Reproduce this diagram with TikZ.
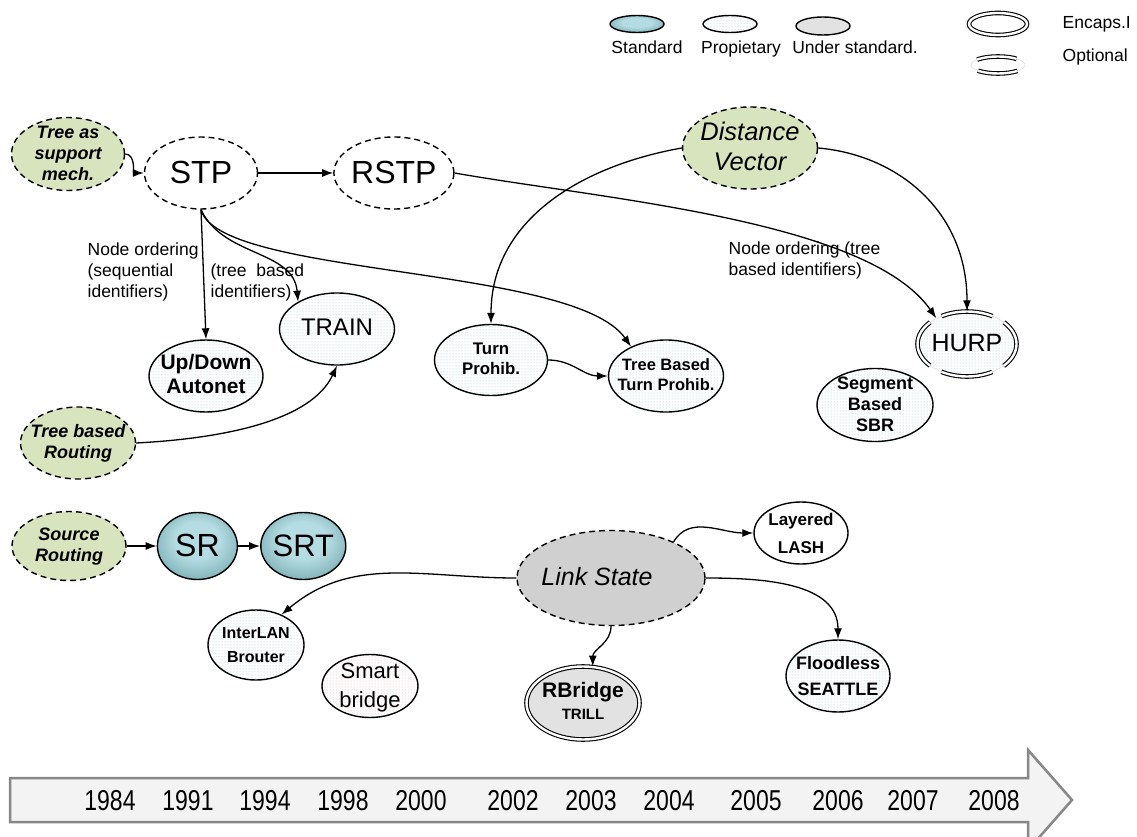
\documentclass[tikz,border=0pt]{standalone}
\usepackage{fontspec}
\setmainfont{Liberation Sans}
\usetikzlibrary{arrows.meta}
\usetikzlibrary{positioning}
\usetikzlibrary{shapes.geometric}
\usetikzlibrary{patterns}

\definecolor{suppGreen}{RGB}{215,228,189}
\definecolor{stdLight}{RGB}{180,220,226}
\definecolor{stdMid}{RGB}{130,180,186}
\definecolor{stdDark}{RGB}{70,115,120}
\definecolor{propDot}{RGB}{150,200,205}
\definecolor{smartDot}{RGB}{235,170,170}
\definecolor{underGray}{RGB}{208,208,208}
\definecolor{marble}{RGB}{226,226,226}
\definecolor{timeFill}{RGB}{243,243,243}
\definecolor{timeLine}{RGB}{135,135,135}

\pgfdeclareradialshading{stdShade}{\pgfpoint{0bp}{6bp}}{color(0bp)=(stdLight); color(14bp)=(stdLight); color(28bp)=(stdMid); color(50bp)=(stdDark)}

\newcommand{\fsz}[2]{\fontsize{#1}{#2}\selectfont}
\newcommand{\ctext}[1]{\makebox[0pt]{\smash{\raisebox{-0.3em}{\begin{tabular}{@{}c@{}}#1\end{tabular}}}}}

\tikzstyle{every picture}=[>={Latex[length=11pt,width=8pt]}, line width=1.3pt]
\tikzstyle{oval}=[ellipse, inner sep=0pt, line width=1.4pt]
\tikzstyle{mech}=[oval, draw, dash pattern=on 6pt off 4pt, fill=suppGreen]
\tikzstyle{proto}=[oval, draw, dash pattern=on 6pt off 4pt, fill=white]
\tikzstyle{std}=[oval, draw, shading=stdShade]
\tikzstyle{prop}=[oval, draw, preaction={fill=white}, pattern=dots, pattern color=propDot]
\tikzstyle{smart}=[oval, draw, preaction={fill=white}, pattern=dots, pattern color=smartDot]
\tikzstyle{plain}=[oval, draw, fill=white]
\tikzstyle{under}=[oval, draw, dash pattern=on 6pt off 4pt, fill=underGray]
\tikzstyle{encaps}=[oval, draw, double, double distance=2.4pt, line width=1.1pt]
\tikzstyle{note}=[inner sep=0pt, align=left, font=\fsz{17.5}{21}]
\tikzstyle{legend}=[inner sep=0pt, font=\fsz{17.5}{21}]
\tikzstyle{year}=[inner sep=0pt, font=\fsz{23}{23}]
\tikzstyle{timeline}=[draw=timeLine, line width=2.5pt, fill=timeFill, line join=miter]
\tikzset{optional/.style n args={3}{postaction={draw=black, double, double distance=2.4pt,
  line width=1.1pt, dash pattern=on #1 off #2, dash phase=#3}}}

\begin{document}
\begin{tikzpicture}[x=1pt, y=-1pt]
\useasboundingbox (0,0) rectangle (1137,837);

% legend
\node[std, minimum width=54pt, minimum height=17pt] (LegStd) at (637,24) {};
\node[prop, minimum width=54pt, minimum height=17pt] (LegProp) at (730,24) {};
\node[oval, draw, fill=marble, minimum width=54pt, minimum height=18pt] (LegUnder) at (823,26) {};
\node[legend, anchor=base] (LegStdTxt) at (647,54) {Standard};
\node[legend, anchor=base] (LegPropTxt) at (741,54) {Propietary};
\node[legend, anchor=base] (LegUnderTxt) at (855,54) {Under standard.};
\node[encaps, fill=white, minimum width=58pt, minimum height=22pt] (LegEncaps) at (998,24) {};
\node[oval, draw=gray!30, line width=0.5pt, optional={40pt}{18pt}{47pt},
      minimum width=54pt, minimum height=17pt] (LegOpt) at (998,65) {};
\node[legend, anchor=west] (LegEncapsTxt) at (1062,24) {Encaps.I};
\node[legend, anchor=west] (LegOptTxt) at (1062,57) {Optional};

% tree family
\node[mech, minimum width=113pt, minimum height=73pt, font=\fsz{18}{21}\bfseries\itshape]
  (TreeSupport) at (68,154) {\ctext{Tree as\\support\\mech.}};
\node[proto, minimum width=113pt, minimum height=72pt, font=\fsz{32}{36}]
  (STP) at (201,173) {\ctext{STP}};
\node[proto, right=75pt of STP, minimum width=120pt, minimum height=72pt, font=\fsz{32}{36}]
  (RSTP) {\ctext{RSTP}};
\node[prop, minimum width=114pt, minimum height=72pt, font=\fsz{21}{24}\bfseries]
  (UpDown) at (206,376) {\ctext{Up/Down\\Autonet}};
\node[prop, minimum width=115pt, minimum height=72pt, font=\fsz{24}{28}]
  (TRAIN) at (337,329) {\ctext{TRAIN}};
\node[mech, minimum width=115pt, minimum height=72pt, font=\fsz{18}{21}\bfseries\itshape]
  (TreeRouting) at (78,443) {\ctext{Tree based\\Routing}};

% distance vector family
\node[mech, minimum width=135pt, minimum height=82pt, font=\fsz{25.5}{30}\itshape]
  (DistVector) at (750,148) {\ctext{Distance\\Vector}};
\node[prop, minimum width=113pt, minimum height=71pt, font=\fsz{16.8}{20}\bfseries]
  (TurnProhib) at (491,360) {\ctext{Turn\\Prohib.}};
\node[prop, minimum width=115pt, minimum height=72pt, font=\fsz{16.5}{20}\bfseries]
  (TBTP) at (666,376) {\ctext{Tree Based\\Turn Prohib.}};
\node[prop, draw=gray!30, line width=0.5pt, optional={52pt}{13pt}{26pt},
      minimum width=99pt, minimum height=65pt, font=\fsz{25}{29}]
  (HURP) at (967,344) {\ctext{HURP}};
\node[prop, minimum width=116pt, minimum height=73pt, font=\fsz{18}{21}\bfseries]
  (SBR) at (875,405) {\ctext{Segment\\Based\\SBR}};

% source routing family
\node[mech, minimum width=114pt, minimum height=69pt, font=\fsz{18}{21}\bfseries\itshape]
  (SourceRouting) at (69,546) {\ctext{Source\\Routing}};
\node[std, right=30pt of SourceRouting, minimum width=80pt, minimum height=67pt,
      font=\fsz{32}{36}] (SR) {\ctext{SR}};
\node[std, right=22pt of SR, minimum width=85pt, minimum height=67pt,
      font=\fsz{31}{36}] (SRT) {\ctext{SRT}};

% link state family
\node[under, minimum width=188pt, minimum height=95pt, font=\fsz{25}{29}\itshape]
  (LinkState) at (611,578) {\ctext{\hspace*{-28pt}Link State}};
\node[plain, minimum width=94pt, minimum height=62pt, font=\fsz{17}{28}\bfseries]
  (LASH) at (801,533) {\ctext{Layered\\LASH}};
\node[prop, minimum width=96pt, minimum height=70pt, font=\fsz{16}{24}\bfseries]
  (InterLAN) at (256,645) {\ctext{InterLAN\\Brouter}};
\node[smart, minimum width=96pt, minimum height=63pt, font=\fsz{22}{29}]
  (SmartBridge) at (370,686) {\ctext{Smart\\bridge}};
\node[encaps, fill=marble, minimum width=113pt, minimum height=73pt, font=\fsz{21}{23}\bfseries]
  (RBridge) at (583,703) {\ctext{RBridge\\[-1pt]\fsz{15}{18}TRILL}};
\node[prop, minimum width=104pt, minimum height=72pt, font=\fsz{18}{26}\bfseries]
  (Floodless) at (838,676) {\ctext{Floodless\\SEATTLE}};

% labels
\node[note, anchor=north west] (OrdSeq) at (87,242) {Node ordering\\(sequential\\identifiers)};
\node[note, anchor=north west] (OrdTree) at (210,263) {(tree\ \ based\\identifiers)};
\node[note, anchor=north west] (OrdHurp) at (728,241) {Node ordering (tree\\based identifiers)};

% connectors
\draw[->] (TreeSupport.east) to[out=0, in=180] (STP.west);
\draw[->] (STP) -- (RSTP);
\draw[->] (STP.south) -- (UpDown.north);
\draw[->] (STP.south) to[out=-65, in=95] (TRAIN.145);
\draw[->] (STP.south) to[out=-75, in=125, out distance=70pt, in distance=100pt] (TBTP.140);
\draw[->] (RSTP.east) to[out=-10, in=125, out distance=150pt, in distance=120pt] (HURP.140);
\draw[->] (DistVector.west) to[out=190, in=90, out distance=100pt, in distance=105pt] (TurnProhib.north);
\draw[->] (DistVector.east) to[out=-5, in=90, out distance=80pt, in distance=100pt] (HURP.north);
\draw[->] (TurnProhib.east) to[out=0, in=180] (TBTP.west);
\draw[->] (TreeRouting.east) to[out=3, in=-115, out distance=90pt, in distance=60pt] (TRAIN.south);
\draw[->] (SourceRouting) -- (SR);
\draw[->] (SR) -- (SRT);
\draw[->] (LinkState.west) to[out=180, in=40] (InterLAN.50);
\draw[->] (LinkState.south) to[out=-90, in=90] (RBridge.75);
\draw[->] (LinkState.30) to[out=60, in=180] (LASH.west);
\draw[->] (LinkState.east) to[out=0, in=90] (Floodless.north);

% time line
\draw[timeline] (10,778) -- (1028,778) -- (1028,750) -- (1072,800) -- (1028,850)
  -- (1028,822) -- (10,822) -- cycle;
\foreach \yr/\xx in {1984/110, 1991/188, 1994/265, 1998/343, 2000/421, 2002/513,
                     2003/591, 2004/669, 2005/756, 2006/838, 2007/913, 2008/994}
  \node[year] (Y\yr) at (\xx,801) {\scalebox{1}[1.25]{\yr}};

\end{tikzpicture}
\end{document}
